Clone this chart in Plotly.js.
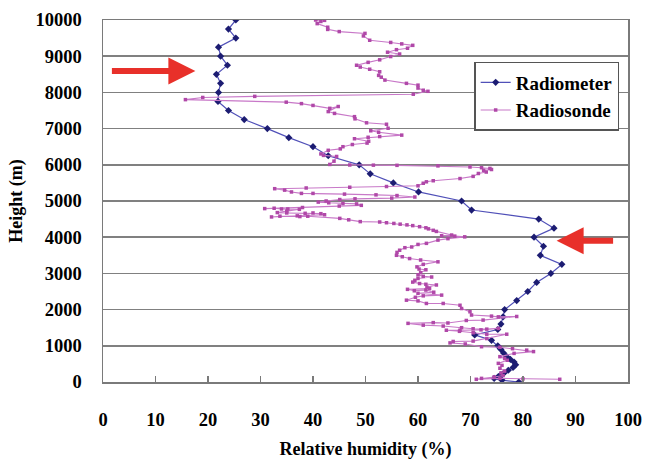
<!DOCTYPE html>
<html>
<head>
<meta charset="utf-8">
<script src="https://cdn.plot.ly/plotly-3.0.1.min.js"></script>
<style>html,body{margin:0;padding:0;background:#fff;}#chart{width:646px;height:460px;}</style>
</head>
<body>
<div id="chart"></div>
<script>
// Radiometer retrieval levels (m) and relative humidity (%)
const radiometerHeight = [10000, 9750, 9500, 9250, 9000, 8750, 8500, 8250, 8000, 7750, 7500, 7250, 7000, 6750, 6500, 6250, 6000, 5750, 5500, 5250, 5000, 4750, 4500, 4250, 4000, 3750, 3500, 3250, 3000, 2750, 2500, 2250, 2000, 1800, 1600, 1450, 1300, 1150, 1000, 900, 800, 700, 625, 550, 475, 400, 325, 250, 200, 150, 100, 50, 0];
const radiometerRH = [25.3, 23.9, 25.3, 22.0, 22.4, 23.7, 21.6, 22.4, 22.0, 21.9, 23.9, 26.9, 31.3, 35.4, 40.0, 42.9, 48.8, 50.9, 55.3, 60.1, 68.3, 70.2, 83.0, 85.9, 82.1, 83.9, 83.3, 87.4, 85.3, 82.6, 80.9, 78.8, 76.5, 76.2, 75.8, 75.2, 70.8, 74.0, 75.2, 75.8, 76.3, 76.9, 77.6, 78.3, 78.6, 78.1, 77.2, 76.4, 75.8, 75.3, 74.5, 76.0, 79.2];

// Radiosonde profile
const radiosondeRH = [40.5, 41.5, 42.2, 40.8, 42.8, 42.8, 45.0, 49.9, 49.6, 50.8, 54.8, 56.9, 59.0, 58.0, 55.9, 54.2, 56.5, 54.8, 52.7, 50.5, 48.3, 49.0, 50.8, 52.7, 52.5, 53.0, 53.7, 57.8, 60.0, 60.0, 61.0, 61.9, 59.1, 28.9, 19.0, 15.7, 34.9, 37.8, 40.0, 43.2, 44.8, 42.9, 44.1, 47.9, 48.0, 50.2, 54.0, 54.3, 51.0, 52.5, 56.9, 52.7, 50.5, 47.9, 50.6, 50.3, 47.5, 45.7, 45.2, 42.9, 41.5, 42.0, 44.5, 44.0, 43.2, 47.0, 51.5, 56.0, 63.8, 69.9, 72.1, 73.7, 74.0, 72.5, 73.0, 71.5, 70.5, 68.0, 62.9, 61.6, 61.0, 60.0, 54.0, 47.0, 38.7, 32.7, 34.6, 35.9, 37.8, 40.0, 46.0, 52.0, 56.0, 59.4, 55.0, 48.0, 45.1, 42.5, 41.0, 43.0, 45.7, 48.3, 49.2, 45.0, 38.0, 30.8, 32.6, 34.0, 35.2, 37.4, 35.0, 33.2, 35.0, 38.5, 40.0, 41.5, 42.2, 37.0, 32.1, 33.7, 37.5, 39.0, 45.1, 46.8, 49.0, 52.7, 54.0, 55.4, 56.6, 57.9, 59.0, 60.3, 61.5, 62.0, 62.9, 63.5, 66.4, 64.5, 67.0, 68.9, 65.7, 63.8, 61.6, 60.0, 58.8, 57.5, 56.5, 56.0, 55.9, 57.0, 58.4, 60.5, 63.8, 61.0, 59.8, 60.2, 61.5, 60.5, 60.0, 61.0, 62.6, 60.0, 59.4, 59.0, 60.3, 61.5, 63.5, 61.7, 62.2, 58.0, 59.3, 61.5, 63.0, 60.0, 64.5, 61.0, 59.5, 57.8, 60.0, 61.6, 64.8, 68.0, 68.3, 69.9, 70.2, 74.0, 75.3, 78.8, 72.4, 69.2, 65.7, 62.9, 58.1, 61.0, 64.8, 68.3, 70.5, 73.1, 75.3, 72.0, 68.0, 65.4, 67.9, 70.5, 73.1, 76.9, 73.1, 70.5, 66.7, 66.1, 69.0, 72.1, 75.6, 78.0, 80.7, 82.0, 78.3, 75.6, 76.5, 77.0, 75.3, 76.0, 75.6, 76.5, 75.8, 76.2, 74.5, 72.1, 71.1, 75.6, 80.0, 87.0];
const radiosondeHeight = [10000, 9960, 9990, 9900, 9800, 9740, 9680, 9630, 9560, 9440, 9380, 9340, 9300, 9220, 9180, 9110, 9060, 8990, 8900, 8830, 8750, 8700, 8640, 8570, 8470, 8420, 8340, 8250, 8200, 8120, 8060, 8030, 7950, 7890, 7860, 7800, 7730, 7690, 7640, 7560, 7610, 7470, 7420, 7330, 7270, 7160, 7120, 7010, 6940, 6900, 6820, 6780, 6760, 6720, 6650, 6600, 6560, 6500, 6440, 6400, 6300, 6260, 6230, 6100, 6010, 5995, 5990, 5985, 5970, 5940, 5920, 5900, 5870, 5850, 5800, 5760, 5680, 5620, 5560, 5530, 5490, 5420, 5400, 5380, 5360, 5340, 5300, 5250, 5210, 5210, 5190, 5170, 5150, 5110, 5080, 5060, 5040, 5000, 4970, 4950, 4930, 4920, 4880, 4860, 4820, 4790, 4800, 4780, 4780, 4770, 4720, 4680, 4670, 4660, 4670, 4650, 4620, 4590, 4560, 4580, 4570, 4580, 4520, 4480, 4430, 4420, 4400, 4380, 4360, 4340, 4320, 4290, 4260, 4230, 4190, 4160, 4060, 4040, 4030, 4010, 3960, 3920, 3830, 3800, 3730, 3710, 3640, 3580, 3500, 3460, 3410, 3370, 3320, 3250, 3180, 3120, 3100, 3020, 2960, 2920, 2900, 2860, 2810, 2760, 2720, 2700, 2680, 2620, 2580, 2560, 2520, 2540, 2480, 2450, 2400, 2380, 2340, 2260, 2240, 2170, 2170, 2120, 2030, 1940, 1850, 1820, 1800, 1810, 1710, 1700, 1630, 1640, 1620, 1570, 1545, 1500, 1470, 1460, 1480, 1440, 1430, 1430, 1400, 1360, 1320, 1320, 1200, 1130, 1120, 1080, 1050, 975, 960, 920, 880, 840, 790, 700, 650, 600, 515, 460, 380, 300, 250, 180, 140, 100, 75, 100, 85, 75];

const xTicks = [0, 10, 20, 30, 40, 50, 60, 70, 80, 90, 100];
const yTicks = [0, 1000, 2000, 3000, 4000, 5000, 6000, 7000, 8000, 9000, 10000];

const serif = 'Liberation Serif, Times New Roman, serif';

const traces = [
  {
    x: radiometerRH, y: radiometerHeight, name: 'Radiometer',
    type: 'scatter', mode: 'lines+markers',
    line: {color: '#5050b8', width: 1.2},
    marker: {symbol: 'diamond', size: 5.5, color: '#1c1c72'}
  },
  {
    x: radiosondeRH, y: radiosondeHeight, name: 'Radiosonde',
    type: 'scatter', mode: 'lines+markers',
    line: {color: '#c878c8', width: 1.1},
    marker: {symbol: 'square', size: 3.5, color: '#b048a8'}
  }
];

const layout = {
  width: 646, height: 460,
  margin: {l: 103, r: 18, t: 20, b: 78},
  paper_bgcolor: '#ffffff', plot_bgcolor: '#ffffff',
  showlegend: true,
  font: {family: serif, size: 18, color: '#000', weight: 'bold'},
  xaxis: {
    range: [0, 100], tickvals: xTicks, ticktext: xTicks.map(String),
    showgrid: false, zeroline: false,
    showline: true, linecolor: '#7a7a7a', linewidth: 1.5, mirror: true,
    ticks: 'inside', ticklen: 6, tickwidth: 1.2, tickcolor: '#7a7a7a',
    ticklabelstandoff: 20,
    tickfont: {family: serif, size: 18.5, weight: 'bold', color: '#000'},
    title: {text: 'Relative humidity (%)', standoff: 16, font: {family: serif, size: 18, weight: 'bold', color: '#000'}}
  },
  yaxis: {
    range: [0, 10000], tickvals: yTicks, ticktext: yTicks.map(String),
    showgrid: true, gridcolor: '#808080', gridwidth: 1.6, zeroline: false,
    showline: true, linecolor: '#7a7a7a', linewidth: 1.5, mirror: true,
    ticks: '', ticklabelstandoff: 16,
    tickfont: {family: serif, size: 18.5, weight: 'bold', color: '#000'},
    title: {text: 'Height (m)', standoff: 8, font: {family: serif, size: 18, weight: 'bold', color: '#000'}}
  },
  legend: {
    x: 0.707, y: 0.884, xanchor: 'left', yanchor: 'top',
    bgcolor: '#ffffff', bordercolor: '#555555', borderwidth: 1.5,
    font: {family: serif, size: 19, weight: 'bold', color: '#000'},
    tracegroupgap: 4
  },
  annotations: [
    {x: 17.6, y: 8590, xref: 'x', yref: 'y', ax: -85, ay: 0, text: '',
     showarrow: true, arrowhead: 2, arrowsize: 0.9, arrowwidth: 6, arrowcolor: '#e8302a', standoff: 0},
    {x: 86.4, y: 3900, xref: 'x', yref: 'y', ax: 58, ay: 0, text: '',
     showarrow: true, arrowhead: 2, arrowsize: 0.9, arrowwidth: 6, arrowcolor: '#e8302a', standoff: 0}
  ]
};

Plotly.newPlot('chart', traces, layout, {displayModeBar: false, staticPlot: true});
</script>
</body>
</html>
